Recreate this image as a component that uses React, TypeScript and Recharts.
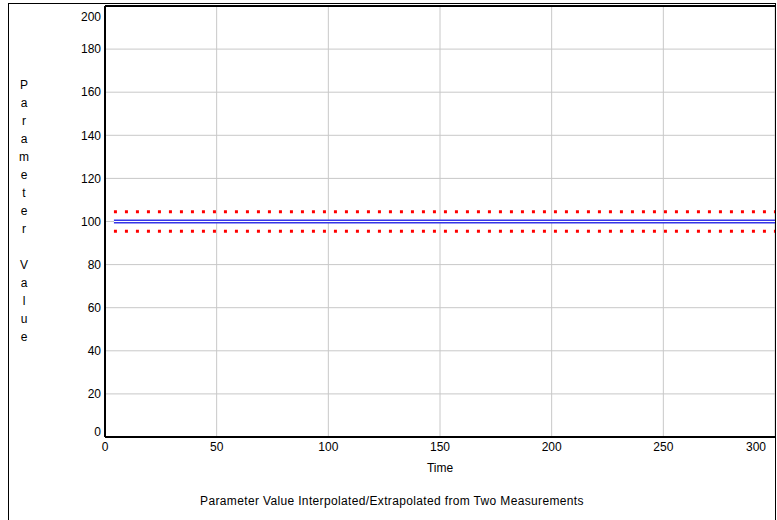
import React from 'react';
import { LineChart, Line, XAxis, YAxis, CartesianGrid, ReferenceLine } from 'recharts';

const times = [4, 300];
const estimate = [100, 100];
const upperBound = [104.5, 104.5];
const lowerBound = [95.5, 95.5];

const xTicks = [0, 50, 100, 150, 200, 250, 300];
const yTicks = [0, 20, 40, 60, 80, 100, 120, 140, 160, 180, 200];

const yLetters = ['P', 'a', 'r', 'a', 'm', 'e', 't', 'e', 'r', '', 'V', 'a', 'l', 'u', 'e'];

const font = '"Liberation Sans", Arial, sans-serif';

const data = times.map((t, i) => ({
  time: t,
  estimate: estimate[i],
  upper: upperBound[i],
  lower: lowerBound[i],
}));

const XTick = (props: any) => {
  const { x, y, payload } = props;
  const last = payload.value === 300;
  return (
    <text x={last ? x + 1 : x} y={y} dy="0.71em" textAnchor={last ? 'end' : 'middle'}
      fontSize={12} fontFamily={font} fill="#000">
      {payload.value}
    </text>
  );
};

const YTick = (props: any) => {
  const { x, y, payload } = props;
  let shift = 0;
  if (payload.value === 0) shift = -5;
  if (payload.value === 200) shift = 8;
  return (
    <text x={x} y={y + shift} dy="0.355em" textAnchor="end"
      fontSize={12} fontFamily={font} fill="#000">
      {payload.value}
    </text>
  );
};

const YLabel = () => (
  <text textAnchor="middle" fontSize={12} fontFamily={font} fill="#000">
    {yLetters.map((c, i) => (
      <tspan key={i} x={24} y={89 + i * 18}>{c}</tspan>
    ))}
  </text>
);

const XLabel = (props: any) => {
  const vb = props.viewBox;
  return (
    <text x={vb.x + vb.width / 2} y={vb.y + 35} textAnchor="middle"
      fontSize={12} fontFamily={font} fill="#000">
      Time
    </text>
  );
};

export default function App() {
  return (
    <div style={{ position: 'absolute', left: 0, top: 0, width: 777, height: 520, overflow: 'hidden', background: '#fff' }}>
      <LineChart width={777} height={520} data={data}
        margin={{ top: 6, right: 2, bottom: 0, left: 0 }}>
        <CartesianGrid stroke="#c8c8c8" strokeWidth={1} />
        <XAxis dataKey="time" type="number" domain={[0, 300]} ticks={xTicks}
          height={83} tickLine={false} tickSize={0} tickMargin={5}
          axisLine={{ stroke: '#000', strokeWidth: 2 }}
          tick={(p: any) => <XTick {...p} />}
          label={(p: any) => <XLabel {...p} />} />
        <YAxis type="number" domain={[0, 200]} ticks={yTicks} width={105}
          tickLine={false} tickSize={0} tickMargin={4}
          axisLine={{ stroke: '#000', strokeWidth: 2 }}
          tick={(p: any) => <YTick {...p} />}
          label={() => <YLabel />} />
        <ReferenceLine y={200} stroke="#000" strokeWidth={2} />
        <Line dataKey="upper" stroke="#ff0000" strokeWidth={3} strokeDasharray="3 8"
          dot={false} activeDot={false} isAnimationActive={false} />
        <Line dataKey="lower" stroke="#ff0000" strokeWidth={3} strokeDasharray="3 8"
          dot={false} activeDot={false} isAnimationActive={false} />
        <Line dataKey="estimate" stroke="#3535e8" strokeWidth={4}
          dot={false} activeDot={false} isAnimationActive={false} />
        <Line dataKey="estimate" stroke="#ffffff" strokeWidth={1.2}
          dot={false} activeDot={false} isAnimationActive={false} />
      </LineChart>
      <div style={{
        position: 'absolute', left: 8, top: 3, width: 768, height: 560,
        boxSizing: 'border-box', border: '1px solid #000', pointerEvents: 'none',
      }} />
      <div style={{
        position: 'absolute', left: 8, width: 768, top: 494, textAlign: 'center',
        fontFamily: font, fontSize: 12, color: '#000', letterSpacing: 0.35,
      }}>
        Parameter Value Interpolated/Extrapolated from Two Measurements
      </div>
    </div>
  );
}
